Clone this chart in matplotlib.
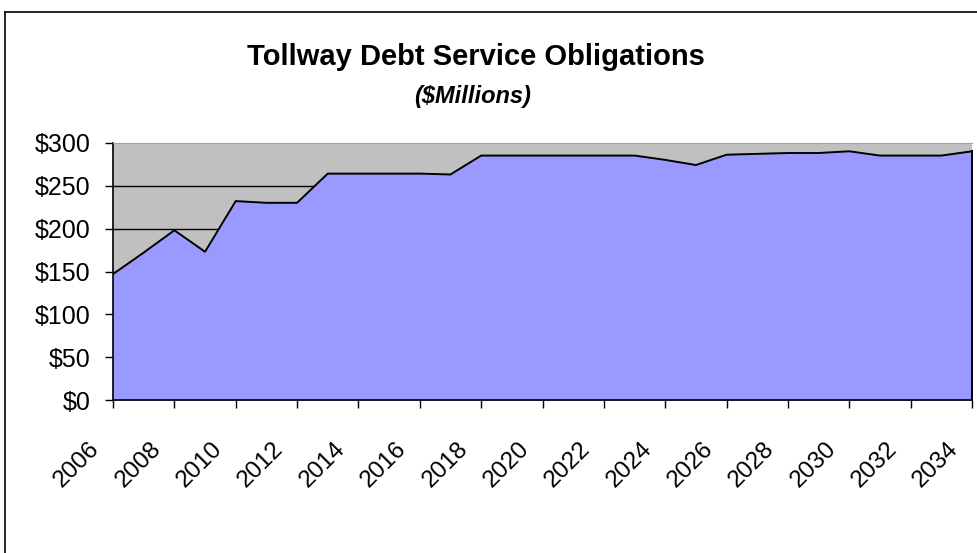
import numpy as np
import matplotlib
matplotlib.use("Agg")
import matplotlib.pyplot as plt
from matplotlib.transforms import ScaledTranslation

years = list(range(2006, 2035))
debt = [147, 172, 198, 173, 232, 230, 230, 264, 264, 264, 264, 263,
        285, 285, 285, 285, 285, 285, 280, 274, 286, 287, 288, 288,
        290, 285, 285, 285, 290]
yticks = [0, 50, 100, 150, 200, 250, 300]
ylabels = ["$%d" % v for v in yticks]
xticks = list(range(2006, 2035, 2))

plt.rcParams['font.family'] = ['Liberation Sans', 'DejaVu Sans']

fig = plt.figure(figsize=(9.77, 5.53), dpi=100)
W, H = 977, 553

# outer chart border (left and top visible)
fig.add_artist(plt.Line2D([5 / W, 5 / W], [0, 1 - 12 / H], color='black', lw=1.2))
fig.add_artist(plt.Line2D([5 / W, 1], [1 - 12 / H, 1 - 12 / H], color='black', lw=1.2))

ax = fig.add_axes([113 / W, 1 - 400.3 / H, (972 - 113) / W, (400.3 - 142.7) / H])
ax.set_facecolor('#C0C0C0')
ax.set_xlim(2006, 2034)
ax.set_ylim(0, 300)

for v in yticks[1:-1]:
    ax.axhline(v, color='black', lw=1, zorder=1)

ax.fill_between(years, debt, 0, color='#9999FF', zorder=2)
ax.plot(years, debt, color='black', lw=1.4, zorder=3)
ax.plot([2034, 2034], [0, debt[-1]], color='black', lw=1.4, zorder=3, clip_on=False)

ax.set_yticks(yticks)
ax.set_yticklabels(ylabels, fontsize=18)
ax.set_xticks(xticks)
ax.set_xticklabels([str(x) for x in xticks], fontsize=17.5, rotation=45,
                   ha='center', va='center', rotation_mode='anchor')
ax.tick_params(axis='both', direction='out', length=6, width=1, color='black')
ax.tick_params(axis='x', pad=40)
ax.tick_params(axis='y', pad=10)
shift = ScaledTranslation(-0.36, 0, fig.dpi_scale_trans)
for lab in ax.get_xticklabels():
    lab.set_transform(lab.get_transform() + shift)

ax.spines['top'].set_color('#A0A0A0')
ax.spines['right'].set_visible(False)
ax.spines['left'].set_linewidth(1.2)
ax.spines['bottom'].set_linewidth(1.2)

fig.text(476 / W, 1 - 57 / H, "Tollway Debt Service Obligations", ha='center',
         va='center', fontsize=21, fontweight='bold')
fig.text(473 / W, 1 - 97 / H, "($Millions)", ha='center', va='center',
         fontsize=17, fontweight='bold', style='italic')

fig.savefig("out.png", dpi=100)
